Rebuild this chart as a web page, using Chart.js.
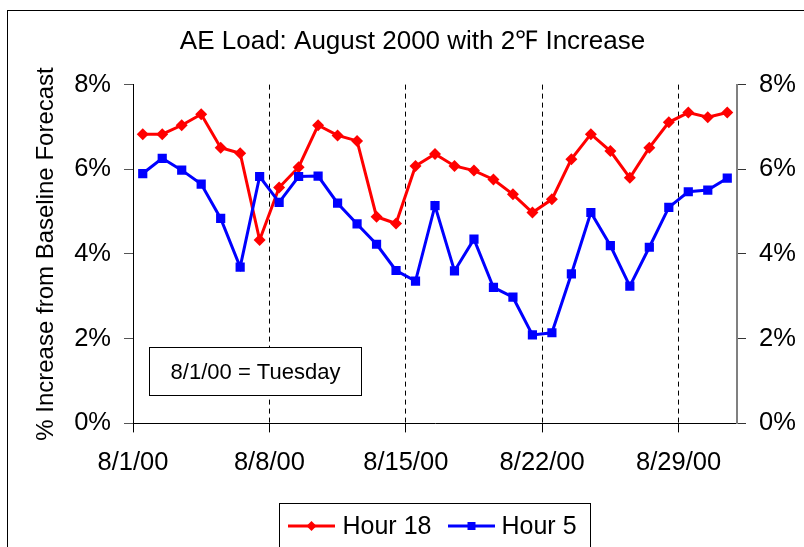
<!DOCTYPE html>
<html><head><meta charset="utf-8">
<script src="https://cdn.jsdelivr.net/npm/chart.js@4/dist/chart.umd.min.js"></script>
<style>html,body{margin:0;padding:0;background:#fff;overflow:hidden}</style>
</head><body>
<canvas id="c" width="804" height="547"></canvas>
<script>
// ---- data ----
const DATES = ['8/1/00','8/2/00','8/3/00','8/4/00','8/5/00','8/6/00','8/7/00','8/8/00','8/9/00','8/10/00',
  '8/11/00','8/12/00','8/13/00','8/14/00','8/15/00','8/16/00','8/17/00','8/18/00','8/19/00','8/20/00',
  '8/21/00','8/22/00','8/23/00','8/24/00','8/25/00','8/26/00','8/27/00','8/28/00','8/29/00','8/30/00','8/31/00'];
const HOUR18 = [6.83,6.83,7.04,7.30,6.51,6.38,4.33,5.57,6.05,7.04,6.80,6.67,4.88,4.72,6.08,6.36,6.08,5.97,5.76,5.41,4.98,5.29,6.24,6.83,6.43,5.80,6.51,7.11,7.34,7.23,7.34];
const HOUR5  = [5.90,6.26,5.98,5.65,4.84,3.69,5.83,5.22,5.83,5.84,5.20,4.71,4.23,3.61,3.36,5.14,3.60,4.35,3.21,2.98,2.09,2.14,3.53,4.98,4.20,3.24,4.16,5.10,5.47,5.51,5.79];
const X_TICK_LABELS = ['8/1/00','8/8/00','8/15/00','8/22/00','8/29/00'];
const X_TICK_INDEX  = [0,7,14,21,28];
const Y_TICKS = [0,2,4,6,8];
const SERIES_NAMES = ['Hour 18','Hour 5'];
const TITLE = 'AE Load: August 2000 with 2\u2109 Increase';
const Y_TITLE = '% Increase from Baseline Forecast';
const NOTE = '8/1/00 = Tuesday';

const FONT = "'Liberation Sans', Arial, sans-serif";
const RED = '#FF0000', BLUE = '#0000FF';

const toPts = arr => arr.map((v, i) => ({x: i + 0.5, y: v}));

const chromePlugin = {
  id: 'chrome',
  beforeDraw(chart) {
    const ctx = chart.ctx;
    ctx.save();
    ctx.fillStyle = '#fff';
    ctx.fillRect(0, 0, chart.width, chart.height);
    ctx.strokeStyle = '#000';
    ctx.lineWidth = 1;
    ctx.strokeRect(7.5, 10.5, 1000, 1000);
    ctx.restore();
  },
  afterLayout(chart) {
    chart.titleBlock.left += 21;
  },
  afterDraw(chart) {
    const ctx = chart.ctx;
    const xs = chart.scales.x, ys = chart.scales.y;
    ctx.save();
    // note box
    const bx0 = Math.round(xs.getPixelForValue(0.84)) + 0.5;
    const bx1 = Math.round(xs.getPixelForValue(11.68)) + 0.5;
    const by0 = Math.round(ys.getPixelForValue(1.80)) + 0.5;
    const by1 = Math.round(ys.getPixelForValue(0.67)) + 0.5;
    ctx.fillStyle = '#fff';
    ctx.fillRect(bx0, by0, bx1 - bx0, by1 - by0);
    ctx.strokeStyle = '#000';
    ctx.lineWidth = 1;
    ctx.strokeRect(bx0, by0, bx1 - bx0, by1 - by0);
    ctx.fillStyle = '#000';
    ctx.font = '22px ' + FONT;
    ctx.textAlign = 'center';
    ctx.textBaseline = 'middle';
    ctx.fillText(NOTE, (bx0 + bx1) / 2, (by0 + by1) / 2 + 1);

    // legend
    const L = {x: 279.5, y: 503.5, w: 311, h: 44};
    ctx.fillStyle = '#fff';
    ctx.fillRect(L.x, L.y, L.w, L.h);
    ctx.strokeStyle = '#000';
    ctx.strokeRect(L.x, L.y, L.w, L.h);
    const cy = 526;
    const items = [
      {x0: 288, x1: 335, tx: 342.5, ds: chart.data.datasets[0]},
      {x0: 448, x1: 495, tx: 501.5, ds: chart.data.datasets[1]}
    ];
    items.forEach(it => {
      const c = it.ds.borderColor;
      ctx.strokeStyle = c;
      ctx.lineWidth = 3;
      ctx.beginPath();
      ctx.moveTo(it.x0, cy); ctx.lineTo(it.x1, cy);
      ctx.stroke();
      ctx.fillStyle = c;
      const mx = (it.x0 + it.x1) / 2;
      if (it.ds.pointStyle === 'rectRot') {
        ctx.beginPath();
        ctx.moveTo(mx, cy - 5); ctx.lineTo(mx + 5, cy); ctx.lineTo(mx, cy + 5); ctx.lineTo(mx - 5, cy);
        ctx.closePath(); ctx.fill();
      } else {
        ctx.fillRect(mx - 4, cy - 4, 8, 8);
      }
      ctx.fillStyle = '#000';
      ctx.font = '25px ' + FONT;
      ctx.textAlign = 'left';
      ctx.textBaseline = 'middle';
      ctx.fillText(it.ds.label, it.tx, cy + 1);
    });
    ctx.restore();
  }
};

const yTicksCommon = {
  callback: v => v + '%',
  font: {family: FONT, size: 25.5},
  color: '#000',
  padding: 13
};

new Chart(document.getElementById('c'), {
  type: 'line',
  data: {
    datasets: [
      {label: SERIES_NAMES[0], data: toPts(HOUR18), borderColor: RED, backgroundColor: RED,
       borderWidth: 3, pointStyle: 'rectRot', pointRadius: 6, pointHoverRadius: 6, pointBorderWidth: 0,
       tension: 0, yAxisID: 'y', order: 2},
      {label: SERIES_NAMES[1], data: toPts(HOUR5), borderColor: BLUE, backgroundColor: BLUE,
       borderWidth: 3, pointStyle: 'rect', pointRadius: 6.5, pointHoverRadius: 6.5, pointBorderWidth: 0,
       tension: 0, yAxisID: 'y', order: 1}
    ]
  },
  options: {
    responsive: false,
    animation: false,
    devicePixelRatio: 1,
    layout: {padding: {top: 0, left: 0, right: 0, bottom: 53.6}},
    plugins: {
      legend: {display: false},
      tooltip: {enabled: false},
      title: {display: true, text: TITLE, color: '#000',
        font: {family: FONT, size: 26, weight: 'normal'}, padding: {top: 26.4, bottom: 27}}
    },
    scales: {
      x: {
        type: 'linear', min: 0, max: DATES.length, position: 'bottom',
        afterBuildTicks: s => { s.ticks = X_TICK_INDEX.map(v => ({value: v})); },
        afterFit: s => { s.height = 70; },
        ticks: {callback: (v, i) => X_TICK_LABELS[i], font: {family: FONT, size: 25.5}, color: '#000',
          padding: 15.3, maxRotation: 0, autoSkip: false},
        grid: {color: '#000', lineWidth: 1, tickLength: 9, tickColor: '#000', drawOnChartArea: true},
        border: {display: true, color: '#000', width: 1, dash: [5, 4]}
      },
      y: {
        position: 'left', min: 0, max: 8,
        afterBuildTicks: s => { s.ticks = Y_TICKS.map(v => ({value: v})); },
        afterFit: s => { s.width = 133; },
        ticks: yTicksCommon,
        grid: {drawOnChartArea: false, tickLength: 9, tickColor: '#555', lineWidth: 1},
        border: {display: true, color: '#000', width: 1},
        title: {display: true, text: Y_TITLE, color: '#000', font: {family: FONT, size: 24},
          padding: {top: 32, bottom: 0}}
      },
      y2: {
        position: 'right', min: 0, max: 8,
        afterBuildTicks: s => { s.ticks = Y_TICKS.map(v => ({value: v})); },
        afterFit: s => { s.width = 67; },
        ticks: yTicksCommon,
        grid: {drawOnChartArea: false, tickLength: 9, tickColor: '#333', lineWidth: 1},
        border: {display: true, color: '#808080', width: 2}
      }
    }
  },
  plugins: [chromePlugin]
});
</script>
</body></html>
